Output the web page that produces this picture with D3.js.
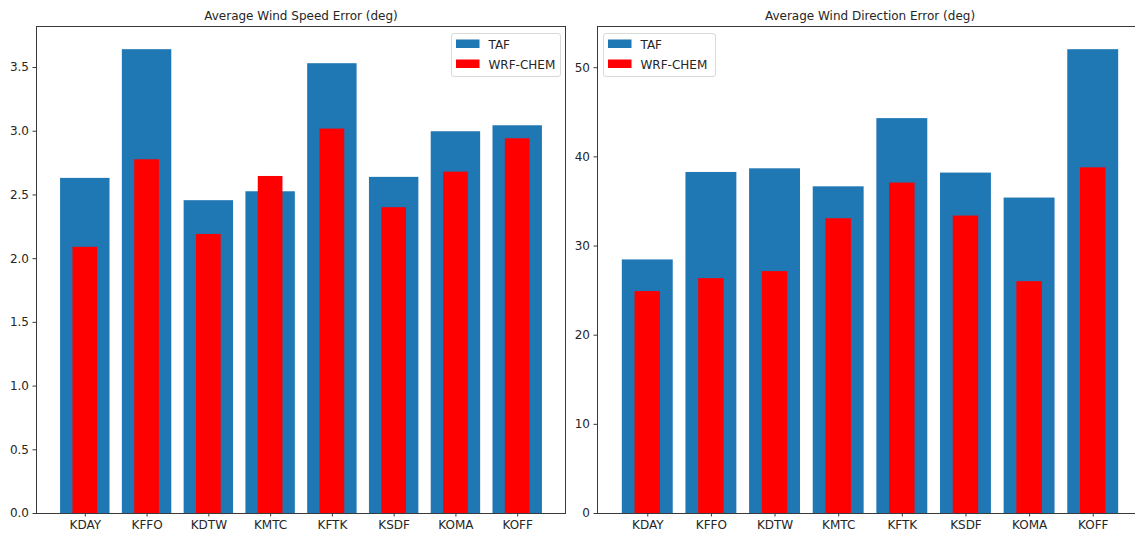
<!DOCTYPE html>
<html>
<head>
<meta charset="utf-8">
<script src="https://cdn.jsdelivr.net/npm/d3@7"></script>
<style>
  body { margin: 0; background: #fff; }
  text { font-family: "DejaVu Sans", sans-serif; fill: #262626; }
</style>
</head>
<body>
<svg id="chart" width="1135" height="536"></svg>
<script>
// stations along the x axis
var stations = ["KDAY", "KFFO", "KDTW", "KMTC", "KFTK", "KSDF", "KOMA", "KOFF"];

// wind speed error (left panel)
var speedTaf = [2.63, 3.64, 2.455, 2.525, 3.53, 2.638, 2.996, 3.043];
var speedWrf = [2.089, 2.776, 2.19, 2.645, 3.017, 2.40, 2.679, 2.941];
var speedTicks = [0.0, 0.5, 1.0, 1.5, 2.0, 2.5, 3.0, 3.5];

// wind direction error (right panel)
var dirTaf = [28.44, 38.25, 38.66, 36.64, 44.29, 38.18, 35.38, 52.02];
var dirWrf = [24.89, 26.34, 27.13, 33.06, 37.06, 33.36, 26.0, 38.77];
var dirTicks = [0, 10, 20, 30, 40, 50];

var TAF_COLOR = "#1f77b4";
var WRF_COLOR = "#ff0000";
var SPINE = "#3a3a3a";

var svg = d3.select("#chart");

function drawPanel(opts) {
  var g = svg.append("g");
  var left = opts.left, right = opts.right, top = 26, bottom = 513;

  var n = stations.length;
  var x = d3.scaleLinear()
    .domain([-0.4 - 0.05 * (n - 0.2), n - 0.6 + 0.05 * (n - 0.2)])
    .range([left, right]);
  var yMax = d3.max(opts.taf.concat(opts.wrf)) * 1.05;
  var y = d3.scaleLinear().domain([0, yMax]).range([bottom, top]);

  // clip to the visible figure area
  var clipId = "clip" + opts.id;
  g.append("clipPath").attr("id", clipId)
    .append("rect").attr("x", left).attr("y", top - 1)
    .attr("width", right - left).attr("height", bottom - top + 2);

  var plot = g.append("g").attr("clip-path", "url(#" + clipId + ")");

  plot.selectAll("rect.taf")
    .data(opts.taf)
    .enter().append("rect")
    .attr("class", "taf")
    .attr("x", function(d, i) { return x(i - 0.4); })
    .attr("width", x(0.8) - x(0))
    .attr("y", function(d) { return y(d); })
    .attr("height", function(d) { return y(0) - y(d); })
    .attr("fill", TAF_COLOR);

  plot.selectAll("rect.wrf")
    .data(opts.wrf)
    .enter().append("rect")
    .attr("class", "wrf")
    .attr("x", function(d, i) { return x(i - 0.2); })
    .attr("width", x(0.4) - x(0))
    .attr("y", function(d) { return y(d); })
    .attr("height", function(d) { return y(0) - y(d); })
    .attr("fill", WRF_COLOR);

  // y axis
  var yAxis = d3.axisLeft(y)
    .tickValues(opts.ticks)
    .tickSize(3.5)
    .tickPadding(3.5)
    .tickFormat(opts.fmt);
  var ya = g.append("g").attr("transform", "translate(" + left + ",0)").call(yAxis);
  ya.select(".domain").remove();
  ya.selectAll("line").attr("stroke", SPINE);
  ya.selectAll("text").attr("font-size", "12px").attr("fill", "#262626");

  // x axis
  var xAxis = d3.axisBottom(x)
    .tickValues(d3.range(n))
    .tickSize(3.5)
    .tickPadding(3.5)
    .tickFormat(function(i) { return stations[i]; });
  var xa = g.append("g").attr("transform", "translate(0," + bottom + ")").call(xAxis);
  xa.select(".domain").remove();
  xa.selectAll("line").attr("stroke", SPINE);
  xa.selectAll("text").attr("font-size", "12px").attr("fill", "#262626");

  // spines
  g.append("rect")
    .attr("x", left + 0.5).attr("y", top + 0.5)
    .attr("width", right - left - 1).attr("height", bottom - top)
    .attr("fill", "none").attr("stroke", SPINE).attr("stroke-width", 1);

  // title
  g.append("text")
    .attr("x", (left + right) / 2)
    .attr("y", 20)
    .attr("text-anchor", "middle")
    .attr("font-size", "12px")
    .text(opts.title);

  // legend
  var lg = g.append("g").attr("transform", "translate(" + opts.legendX + ",33)");
  lg.append("rect")
    .attr("x", 0.5).attr("y", 0.5)
    .attr("width", opts.legendW).attr("height", 43)
    .attr("rx", 2.5)
    .attr("fill", "#fff").attr("fill-opacity", 0.8)
    .attr("stroke", "#d9d9d9");
  var items = [["TAF", TAF_COLOR], ["WRF-CHEM", WRF_COLOR]];
  items.forEach(function(it, k) {
    lg.append("rect")
      .attr("x", 5).attr("y", 6.5 + k * 20)
      .attr("width", 23.5).attr("height", 8.5)
      .attr("fill", it[1]);
    lg.append("text")
      .attr("x", 37.5).attr("y", 15.5 + k * 20)
      .attr("font-size", "12px")
      .text(it[0]);
  });
}

drawPanel({
  id: "speed",
  left: 36, right: 566,
  taf: speedTaf, wrf: speedWrf,
  ticks: speedTicks,
  fmt: d3.format(".1f"),
  title: "Average Wind Speed Error (deg)",
  legendX: 451, legendW: 109
});

drawPanel({
  id: "dir",
  left: 597, right: 1143,
  taf: dirTaf, wrf: dirWrf,
  ticks: dirTicks,
  fmt: d3.format("d"),
  title: "Average Wind Direction Error (deg)",
  legendX: 603, legendW: 112
});
</script>
</body>
</html>
